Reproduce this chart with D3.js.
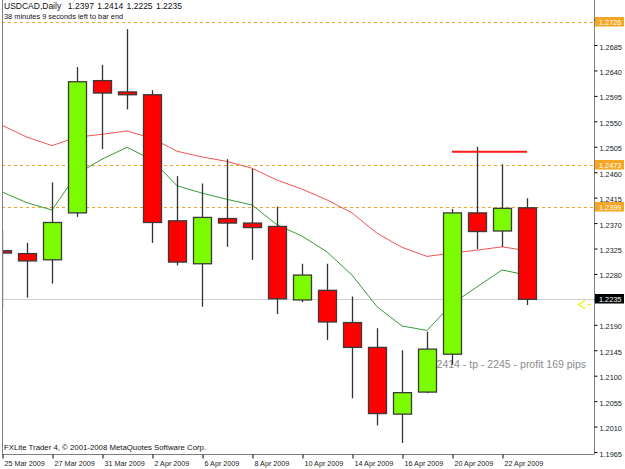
<!doctype html>
<head>
  <meta charset="utf-8">
  <title>USDCAD Daily</title>
  <script src="https://d3js.org/d3.v7.min.js"></script>
  <style>
    body { margin: 0; background: #fff; }
    text { font-family: "Liberation Sans", Arial, sans-serif; }
  </style>
</head>
<body>
<div id="chart"></div>
<script>
// daily bars, 25 Mar 2009 .. 23 Apr 2009
var dates = ["25 Mar 2009","26 Mar 2009","27 Mar 2009","30 Mar 2009","31 Mar 2009","1 Apr 2009",
  "2 Apr 2009","3 Apr 2009","6 Apr 2009","7 Apr 2009","8 Apr 2009","9 Apr 2009","10 Apr 2009",
  "13 Apr 2009","14 Apr 2009","15 Apr 2009","16 Apr 2009","17 Apr 2009","20 Apr 2009",
  "21 Apr 2009","22 Apr 2009","23 Apr 2009"];
var opens  = [1.2321,1.2316,1.2305,1.2388,1.2622,1.2602,1.2597,1.2374,1.2298,1.2378,1.2370,1.2364,1.2234,
  1.2251,1.2194,1.2150,1.2032,1.2071,1.2138,1.2388,1.2356,1.2397];
var highs  = [1.2358,1.2335,1.2442,1.2646,1.2650,1.2713,1.2605,1.2453,1.2440,1.2483,1.2466,1.2399,1.2298,
  1.2298,1.2240,1.2184,1.2145,1.2178,1.2395,1.2505,1.2474,1.2414];
var lows   = [1.2220,1.2238,1.2263,1.2381,1.2501,1.2571,1.2335,1.2295,1.2222,1.2328,1.2305,1.2209,1.2230,
  1.2163,1.2060,1.2012,1.1981,1.2069,1.2119,1.2324,1.2328,1.2225];
var closes = [1.2317,1.2303,1.2371,1.2620,1.2600,1.2597,1.2371,1.2301,1.2380,1.2370,1.2362,1.2236,1.2278,
  1.2195,1.2150,1.2033,1.2070,1.2147,1.2388,1.2355,1.2396,1.2235];
var maSlow = [1.2543,1.2522,1.2507,1.2522,1.2527,1.2533,1.2520,1.2497,1.2487,1.2479,1.2467,1.2446,1.2430,
  1.2411,1.2388,1.2352,1.2327,1.2311,1.2317,1.2322,1.2328,1.2321];
var maFast = [1.2425,1.2406,1.2393,1.2457,1.2483,1.2504,1.2482,1.2436,1.2423,1.2412,1.2402,1.2367,1.2347,
  1.2319,1.2278,1.2222,1.2188,1.2180,1.2227,1.2257,1.2287,1.2278];
var dateTicks = ["25 Mar 2009","27 Mar 2009","31 Mar 2009","2 Apr 2009","6 Apr 2009","8 Apr 2009",
  "10 Apr 2009","14 Apr 2009","16 Apr 2009","20 Apr 2009","22 Apr 2009"];
var priceTicks = [1.2730,1.2685,1.2640,1.2595,1.2550,1.2505,1.2460,1.2415,1.2370,1.2325,1.2280,1.2235,
  1.2190,1.2145,1.2100,1.2055,1.2010,1.1965];
var levels = [1.2726, 1.2473, 1.2399];
var bidPrice = 1.2235;
var tpLine = {from: "20 Apr 2009", to: "23 Apr 2009", price: 1.2496};
var title1 = "USDCAD,Daily  1.2397 1.2414 1.2225 1.2235";
var title2 = "38 minutes 9 seconds left to bar end";
var note = "by 2414 - tp - 2245 - profit 169 pips";
var copyright = "FXLite Trader 4, \u00a9 2001-2008 MetaQuotes Software Corp.";

var W = 625, H = 469;
var left = 2, right = 594, bottom = 454;

var svg = d3.select("#chart").append("svg")
  .attr("width", W).attr("height", H);

var x = d3.scalePoint().domain(dates).range([2, 527]);
var y = d3.scaleLinear().domain([1.1965, 1.2685]).range([452, 45]);

var bars = dates.map(function(d, i) {
  return {date: d, o: opens[i], h: highs[i], l: lows[i], c: closes[i], slow: maSlow[i], fast: maFast[i]};
});

svg.append("clipPath").attr("id", "plot")
  .append("rect").attr("x", left).attr("y", 0).attr("width", right - left).attr("height", bottom);

var plot = svg.append("g").attr("clip-path", "url(#plot)");

// level lines
plot.selectAll(".lvl").data(levels).enter().append("line")
  .attr("x1", left).attr("x2", right)
  .attr("y1", function(d){ return Math.round(y(d)) + 0.5; })
  .attr("y2", function(d){ return Math.round(y(d)) + 0.5; })
  .style("stroke", "#f5a623").style("stroke-dasharray", "3,3");

plot.append("line")
  .attr("x1", left).attr("x2", right)
  .attr("y1", Math.round(y(bidPrice)) + 0.5).attr("y2", Math.round(y(bidPrice)) + 0.5)
  .style("stroke", "#d0d0d0");

// note behind the candles
plot.append("text")
  .attr("x", 586).attr("y", 368)
  .style("text-anchor", "end").style("font-size", "10.5px").style("fill", "#8c8c8c")
  .text(note);

// moving averages
var line = function(key) {
  return d3.line().x(function(d){ return x(d.date); }).y(function(d){ return y(d[key]); });
};
plot.append("path").datum(bars).attr("d", line("slow"))
  .style("fill", "none").style("stroke", "#f25454").style("stroke-width", 1);
plot.append("path").datum(bars).attr("d", line("fast"))
  .style("fill", "none").style("stroke", "#3a9a3a").style("stroke-width", 1);

// candles
var bw = 19;
var candle = plot.selectAll(".candle").data(bars).enter().append("g");
candle.append("line")
  .attr("x1", function(d){ return Math.round(x(d.date)) + 0.5; })
  .attr("x2", function(d){ return Math.round(x(d.date)) + 0.5; })
  .attr("y1", function(d){ return y(d.h); })
  .attr("y2", function(d){ return y(d.l); })
  .style("stroke", "#333").style("stroke-width", 1.3);
candle.append("rect")
  .attr("x", function(d){ return Math.round(x(d.date)) - 9 + 0.5; })
  .attr("y", function(d){ return y(Math.max(d.o, d.c)); })
  .attr("width", bw - 1)
  .attr("height", function(d){ return Math.max(2, Math.abs(y(d.o) - y(d.c))); })
  .style("fill", function(d){ return d.c >= d.o ? "#7cfc00" : "#ff0000"; })
  .style("stroke", "#3a3a3a").style("stroke-width", 1.3);

// take-profit style red line
plot.append("line")
  .attr("x1", x(tpLine.from)).attr("x2", x(tpLine.to))
  .attr("y1", y(tpLine.price)).attr("y2", y(tpLine.price))
  .style("stroke", "#ff1a1a").style("stroke-width", 2);

// bid arrow
svg.append("path")
  .attr("d", "M585,300.5L578.5,304.5L585,308.5")
  .style("fill", "none").style("stroke", "#f0f000").style("stroke-width", 1.3);
svg.append("line").attr("x1", 588).attr("x2", 591).attr("y1", 304.5).attr("y2", 304.5)
  .style("stroke", "#f0f000");

// frame
svg.append("path")
  .attr("d", "M" + (left + 0.5) + ",0V" + (bottom + 0.5) + "H" + (right + 0.5) + "V0")
  .style("fill", "none").style("stroke", "#808080");

// price axis (labels hidden where a price tag sits right on them)
var covered = function(d) {
  return levels.concat([bidPrice]).some(function(p){ return Math.abs(y(p) - y(d)) < 4; });
};
var yAxis = svg.append("g")
  .attr("transform", "translate(" + (right + 0.5) + ",0)")
  .call(d3.axisRight(y).tickValues(priceTicks).tickSize(3).tickPadding(2)
    .tickFormat(function(d){ return covered(d) ? "" : d3.format(".4f")(d); }));
yAxis.select(".domain").remove();
yAxis.selectAll("line").style("stroke", "#000");
yAxis.selectAll("text").attr("dy", "0.55em").style("font-size", "7.3px").style("fill", "#222")
  .style("font-family", "'Liberation Sans', Arial, sans-serif");

// time axis
var xAxis = svg.append("g")
  .attr("transform", "translate(0," + (bottom + 0.5) + ")")
  .call(d3.axisBottom(x).tickValues(dateTicks).tickSize(4).tickPadding(2));
xAxis.select(".domain").remove();
xAxis.selectAll("line").style("stroke", "#000")
  .attr("transform", "translate(0.5,0)");
xAxis.selectAll("text").style("font-size", "7.2px").style("fill", "#222")
  .style("text-anchor", "start").attr("dx", 2)
  .style("font-family", "'Liberation Sans', Arial, sans-serif");

// price labels
var tags = levels.map(function(p){ return {p: p, fill: "#f5a623"}; })
  .concat([{p: bidPrice, fill: "#000"}]);
var tag = svg.selectAll(".tag").data(tags).enter().append("g")
  .attr("transform", function(d){ return "translate(" + (right + 1) + "," + Math.round(y(d.p)) + ")"; });
tag.append("rect").attr("x", 0).attr("y", -5).attr("width", 29).attr("height", 9.5)
  .style("fill", function(d){ return d.fill; });
tag.append("text").attr("x", 4).attr("y", 2.6)
  .style("font-size", "7.3px").style("fill", "#fff")
  .text(function(d){ return d3.format(".4f")(d.p); });

// titles
svg.append("text").attr("x", 4).attr("y", 9)
  .style("font-size", "8.5px").style("fill", "#111").style("word-spacing", "1px")
  .attr("xml:space", "preserve").text(title1);
svg.append("text").attr("x", 4).attr("y", 19)
  .style("font-size", "7.4px").style("fill", "#111").text(title2);
svg.append("text").attr("x", 4).attr("y", 450)
  .style("font-size", "7.8px").style("fill", "#111").text(copyright);
</script>
</body>
